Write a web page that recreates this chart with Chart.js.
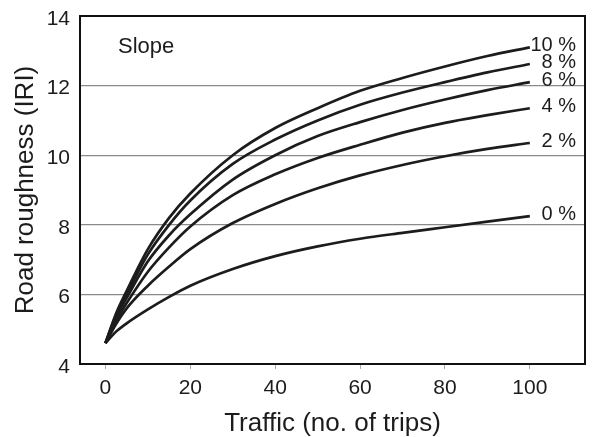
<!DOCTYPE html>
<html>
<head>
<meta charset="utf-8">
<script src="https://cdn.jsdelivr.net/npm/chart.js@4.4.1/dist/chart.umd.min.js"></script>
<style>
  html, body { margin: 0; padding: 0; background: #fff; }
  #wrap { width: 592px; height: 437px; position: relative; }
</style>
</head>
<body>
<div id="wrap"><canvas id="c" width="592" height="437"></canvas></div>
<script>
// ---- data ----
const traffic = [0, 2.5, 5, 10, 15, 20, 30, 40, 50, 60, 70, 80, 90, 100];
const slope0  = [4.6, 4.93, 5.17, 5.57, 5.93, 6.25, 6.73, 7.1, 7.38, 7.6, 7.77, 7.93, 8.09, 8.25];
const slope2  = [4.6, 5.15, 5.6, 6.25, 6.8, 7.3, 8.05, 8.6, 9.05, 9.42, 9.72, 9.97, 10.18, 10.35];
const slope4  = [4.6, 5.25, 5.75, 6.65, 7.35, 7.95, 8.85, 9.45, 9.92, 10.3, 10.65, 10.93, 11.15, 11.35];
const slope6  = [4.6, 5.35, 5.9, 6.95, 7.7, 8.3, 9.3, 10.0, 10.55, 10.95, 11.3, 11.6, 11.87, 12.1];
const slope8  = [4.6, 5.4, 6.0, 7.15, 8.0, 8.7, 9.75, 10.45, 11.0, 11.45, 11.8, 12.1, 12.38, 12.62];
const slope10 = [4.6, 5.45, 6.1, 7.3, 8.2, 8.9, 10.0, 10.78, 11.35, 11.85, 12.22, 12.55, 12.85, 13.1];
const seriesLabels = ['0 %', '2 %', '4 %', '6 %', '8 %', '10 %'];
const xTicks = [0, 20, 40, 60, 80, 100];
const yTicks = [4, 6, 8, 10, 12, 14];
const legendTitle = 'Slope';
const xTitle = 'Traffic (no. of trips)';
const yTitle = 'Road roughness (IRI)';

const seriesValues = [slope0, slope2, slope4, slope6, slope8, slope10];
const FONT = "'Liberation Sans', Arial, Helvetica, sans-serif";
const INK = '#1c1c1c';

const datasets = seriesValues.map((vals, i) => ({
  label: seriesLabels[i],
  data: traffic.map((t, j) => ({ x: t, y: vals[j] })),
  borderColor: INK,
  borderWidth: 2.7,
  pointRadius: 0,
  fill: false,
  cubicInterpolationMode: 'monotone'
}));

const decorations = {
  id: 'decorations',
  afterDatasetsDraw(chart) {
    const { ctx, chartArea: a, scales } = chart;
    ctx.save();
    // frame
    ctx.strokeStyle = '#111';
    ctx.lineWidth = 2;
    ctx.strokeRect(a.left, a.top, a.right - a.left, a.bottom - a.top);
    // series end labels
    ctx.fillStyle = INK;
    ctx.font = '20px ' + FONT;
    ctx.textAlign = 'right';
    ctx.textBaseline = 'middle';
    chart.data.datasets.forEach((ds) => {
      const last = ds.data[ds.data.length - 1];
      const y = scales.y.getPixelForValue(last.y) - 2;
      ctx.fillText(ds.label, a.right - 9, y);
    });
    // "Slope" heading
    ctx.textAlign = 'left';
    ctx.textBaseline = 'alphabetic';
    ctx.font = '22px ' + FONT;
    ctx.fillText(legendTitle, a.left + 38, a.top + 37);
    ctx.restore();
  }
};

new Chart(document.getElementById('c'), {
  type: 'line',
  data: { datasets },
  plugins: [decorations],
  options: {
    responsive: false,
    animation: false,
    layout: { padding: { left: 0, right: 7, top: 16, bottom: 0 } },
    plugins: { legend: { display: false }, tooltip: { enabled: false } },
    scales: {
      x: {
        type: 'linear',
        min: -6, max: 113,
        afterBuildTicks: (s) => { s.ticks = xTicks.map(v => ({ value: v })); },
        afterFit: (s) => { s.height = 73; s.paddingLeft = 0; s.paddingRight = 0; },
        grid: { display: true, drawOnChartArea: false, drawTicks: true, tickLength: 5, color: '#aaa' },
        border: { display: false },
        ticks: { color: INK, font: { family: FONT, size: 21 }, padding: 7, maxRotation: 0 },
        title: { display: true, text: xTitle, color: INK, font: { family: FONT, size: 26, lineHeight: 1 }, padding: { top: 0, bottom: 0 } }
      },
      y: {
        type: 'linear',
        min: 4, max: 14,
        afterBuildTicks: (s) => { s.ticks = yTicks.map(v => ({ value: v })); },
        afterFit: (s) => { s.width = 80; s.paddingTop = 0; s.paddingBottom = 0; },
        grid: { color: '#8a8a8a', lineWidth: 1.2, drawTicks: false },
        border: { display: false },
        ticks: { color: INK, font: { family: FONT, size: 21 }, padding: 10, labelOffset: 3 },
        title: { display: true, text: yTitle, color: INK, font: { family: FONT, size: 26, lineHeight: 1.2 }, padding: { top: 10, bottom: 0 } }
      }
    }
  }
});
</script>
</body>
</html>
